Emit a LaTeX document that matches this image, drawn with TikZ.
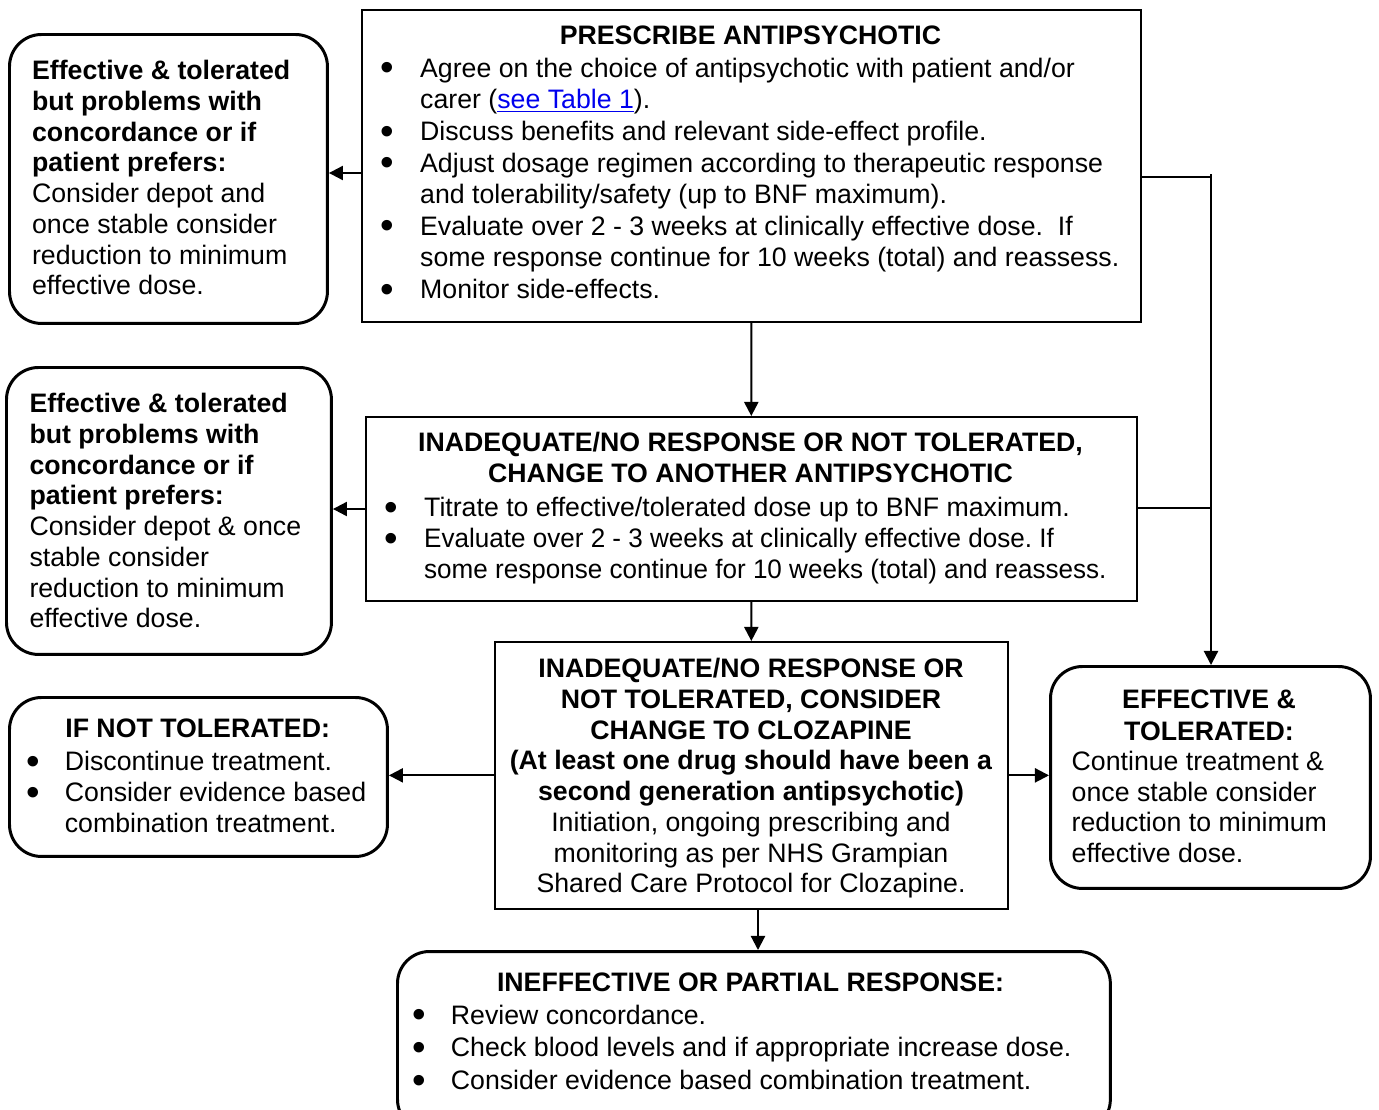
\documentclass[tikz,border=0pt]{standalone}
\usepackage{fontspec}
\setmainfont{Liberation Sans}
\usetikzlibrary{arrows.meta}
\newdimen\pxu \pxu=0.56693pt
\definecolor{linkblue}{RGB}{0,0,238}
\newcommand\bul[1]{\makebox[#1\pxu][l]{\makebox[0pt][c]{\smash{\raisebox{-0.14em}{\scalebox{1.45}{•}}}}}}
\newcommand\ind[1]{\hspace*{#1\pxu}}
\newcommand\fs[1]{\fontsize{15.2pt}{#1\pxu}\selectfont\frenchspacing}
\newcommand\firstline{\rule{0pt}{12pt}}
\newcommand\narrow[1]{\scalebox{0.976}[1]{#1}}
\tikzset{
  sqbox/.style={draw, line width=1pt, rectangle, inner sep=0pt, anchor=north west},
  rbox/.style={draw, line width=1.7pt, rectangle, rounded corners=0.64cm, inner sep=0pt, anchor=north west},
  txt/.style={inner sep=0pt, outer sep=0pt, align=left, anchor=north west},
  ctxt/.style={inner sep=0pt, outer sep=0pt, align=center, anchor=north},
  conn/.style={line width=1.2pt, -{Triangle[length=8pt,width=8pt]}},
  wire/.style={line width=1.1pt}
}
\begin{document}
\begin{tikzpicture}[x=0.02cm,y=-0.02cm]
\useasboundingbox (0,0) rectangle (1379,1109);
\clip (0,0) rectangle (1379,1109);

% boxes
\node[sqbox, minimum width=15.58cm, minimum height=6.24cm] (A) at (361,9) {};
\node[rbox, minimum width=6.36cm, minimum height=5.78cm] (L1) at (8,33) {};
\node[sqbox, minimum width=15.42cm, minimum height=3.68cm] (B) at (365,416) {};
\node[rbox, minimum width=6.5cm, minimum height=5.74cm] (L2) at (5,366) {};
\node[sqbox, minimum width=10.26cm, minimum height=5.34cm] (C) at (494,641) {};
\node[rbox, minimum width=7.56cm, minimum height=3.18cm] (L3) at (8,696) {};
\node[rbox, minimum width=6.4cm, minimum height=4.44cm] (R) at (1049,665) {};
\node[rbox, minimum width=14.26cm, minimum height=3.6cm] (D) at (396,950) {};

% box A text
\node[anchor=base, inner sep=0pt, font=\fs{31.7}\bfseries] (At) at (750.5,44) {PRESCRIBE ANTIPSYCHOTIC};
\node[txt, font=\fs{31.73}] (Ab) at (387.7,56.1) {\firstline\bul{32.6}Agree on the choice of antipsychotic with patient and/or\\
\ind{32.6}carer (\textcolor{linkblue}{\underline{see Table 1}}).\\
\bul{32.6}Discuss benefits and relevant side-effect profile.\\
\bul{32.6}Adjust dosage regimen according to therapeutic response\\
\ind{32.6}and tolerability/safety (up to BNF maximum).\\
\bul{32.6}Evaluate over 2 - 3 weeks at clinically effective dose.\ \ If\\
\ind{32.6}some response continue for 10 weeks (total) and reassess.\\
\bul{32.6}Monitor side-effects.};

% L1 text
\node[txt, font=\fs{30.82}] (L1t) at (32.1,58.8) {\firstline\textbf{Effective \& tolerated}\\
\textbf{but problems with}\\
\textbf{concordance or if}\\
\textbf{patient prefers:}\\
Consider depot and\\
once stable consider\\
reduction to minimum\\
effective dose.};

% B text
\node[ctxt, font=\fs{31}\bfseries] (Bt) at (750.5,430.8) {\firstline INADEQUATE/NO RESPONSE OR NOT TOLERATED,\\CHANGE TO ANOTHER ANTIPSYCHOTIC};
\node[txt, font=\fs{31.3}] (Bb) at (391,495.3) {\firstline\bul{33.3}Titrate to effective/tolerated dose up to BNF maximum.\\
\bul{33.3}\narrow{Evaluate over 2 - 3 weeks at clinically effective dose. If}\\
\ind{33.3}\narrow{some response continue for 10 weeks (total) and reassess.}};

% L2 text
\node[txt, font=\fs{30.86}] (L2t) at (29.5,391.5) {\firstline\textbf{Effective \& tolerated}\\
\textbf{but problems with}\\
\textbf{concordance or if}\\
\textbf{patient prefers:}\\
Consider depot \& once\\
stable consider\\
reduction to minimum\\
effective dose.};

% C text
\node[ctxt, font=\fs{30.81}] (Ct) at (751,656.8) {\firstline\textbf{INADEQUATE/NO RESPONSE OR}\\
\textbf{NOT TOLERATED, CONSIDER}\\
\textbf{CHANGE TO CLOZAPINE}\\
\textbf{(At least one drug should have been a}\\
\textbf{second generation antipsychotic)}\\
Initiation, ongoing prescribing and\\
monitoring as per NHS Grampian\\
Shared Care Protocol for Clozapine.};

% L3 text
\node[anchor=base west, inner sep=0pt, font=\fs{31}\bfseries] (L3t) at (65,737.7) {IF NOT TOLERATED:};
\node[txt, font=\fs{31}] (L3b) at (33.3,749.8) {\firstline\bul{31.7}Discontinue treatment.\\
\bul{31.7}Consider evidence based\\
\ind{31.7}combination treatment.};

% R text
\node[ctxt, font=\fs{31.6}\bfseries] (Rt) at (1209,687.5) {\firstline EFFECTIVE \&\\TOLERATED:};
\node[txt, font=\fs{30.6}] (Rb) at (1071.7,749.8) {\firstline Continue treatment \&\\
once stable consider\\
reduction to minimum\\
effective dose.};

% D text
\node[anchor=base, inner sep=0pt, font=\fs{32.7}\bfseries] (Dt) at (750.5,991) {INEFFECTIVE OR PARTIAL RESPONSE:};
\node[txt, font=\fs{32.7}] (Db) at (419.5,1003.1) {\firstline\bul{31.5}Review concordance.\\
\bul{31.5}Check blood levels and if appropriate increase dose.\\
\bul{31.5}Consider evidence based combination treatment.};

% connectors
\coordinate (hA) at (0,173);
\coordinate (hB) at (0,509);
\coordinate (hR1) at (0,177);
\coordinate (hR2) at (0,508);
\coordinate (vR) at (1211,0);
\coordinate (vRtop) at (1211,174);
\coordinate (vD) at (758,0);

\draw[conn] (A.west |- hA) -- (L1.east |- hA);
\draw[conn] (A.south) -- (B.north);
\draw[conn] (B.west |- hB) -- (L2.east |- hB);
\draw[conn] (B.south) -- (C.north);
\draw[conn] (C.west) -- (C.west -| L3.east);
\draw[conn] (C.east) -- (C.east -| R.west);
\draw[conn] (C.south -| vD) -- (D.north -| vD);
\draw[wire] (A.east |- hR1) -- (vR |- hR1);
\draw[wire] (B.east |- hR2) -- (vR |- hR2);
\draw[conn] (vRtop) -- (R.north -| vR);
\end{tikzpicture}
\end{document}
